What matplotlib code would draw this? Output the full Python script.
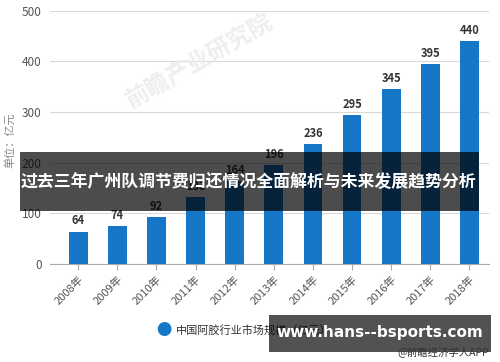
import matplotlib.pyplot as plt
from matplotlib.patches import Rectangle

plt.rcParams['font.family'] = ['Noto Sans CJK SC', 'DejaVu Sans']

years = ["2008年", "2009年", "2010年", "2011年", "2012年", "2013年",
         "2014年", "2015年", "2016年", "2017年", "2018年"]
market_size = [64, 74, 92, 133, 164, 196, 236, 295, 345, 395, 440]
y_ticks = [0, 100, 200, 300, 400, 500]

bar_color = "#1677c8"
grid_color = "#d9d9d9"
text_gray = "#555555"

fig = plt.figure(figsize=(5, 3.62), dpi=100)
ax = fig.add_axes([0.10, 0.271, 0.878, 0.699])

x = list(range(len(years)))
ax.bar(x, market_size, width=0.48, color=bar_color, zorder=3)
for xi, v in zip(x, market_size):
    ax.text(xi, v + 8, str(v), ha="center", va="bottom", fontsize=8,
            fontweight="bold", color="#333333", zorder=4)

ax.set_xlim(-0.72, 10.5)
ax.set_ylim(0, 500)
ax.set_yticks(y_ticks)
ax.set_yticklabels([str(t) for t in y_ticks], fontsize=8.5, color=text_gray)
ax.set_xticks(x)
ax.set_xticklabels(years, rotation=45, ha="right", rotation_mode="anchor",
                   fontsize=8, color=text_gray)
ax.tick_params(axis="y", length=0, pad=6)
ax.tick_params(axis="x", length=4, color="#aaaaaa")
ax.grid(axis="y", color=grid_color, linewidth=0.8, zorder=0)
for s in ["top", "right", "left"]:
    ax.spines[s].set_visible(False)
ax.spines["bottom"].set_color("#aaaaaa")
ax.set_ylabel("单位：亿元", fontsize=8, color="#888888", labelpad=2)
ax.yaxis.set_label_coords(-0.08, 0.49)

# faint watermark
fig.text(0.40, 0.83, "前瞻产业研究院", fontsize=17, color="#eeeeee",
         rotation=30, ha="center", va="center", fontweight="bold", zorder=0)

# legend
fig.text(0.327, 0.088, "●", fontsize=11, color=bar_color, ha="center", va="center")
fig.text(0.352, 0.088, "中国阿胶行业市场规模（亿元）", fontsize=8,
         color="#333333", ha="left", va="center")

# title banner
fig.patches.append(Rectangle((0.04, 1 - 211 / 362), 0.918, 59 / 362,
                             transform=fig.transFigure, facecolor="black",
                             alpha=0.7, zorder=10))
fig.text(0.497, 1 - 182 / 362, "过去三年广州队调节费归还情况全面解析与未来发展趋势分析",
         fontsize=12.2, fontweight="bold", color="white", ha="center",
         va="center", zorder=11)

# site box
fig.patches.append(Rectangle((269 / 500, 1 - 352 / 362), 222 / 500, 37 / 362,
                             transform=fig.transFigure, facecolor="black",
                             alpha=0.68, zorder=10))
fig.text(380 / 500, 1 - 332 / 362, "www.hans--bsports.com", fontsize=11,
         fontweight="bold", color="white", ha="center", va="center",
         family="DejaVu Sans", zorder=11)
fig.text(489 / 500, 1 - 352 / 362, "@前瞻经济学人APP", fontsize=7.5,
         color="#333333", ha="right", va="center", zorder=12)

fig.savefig("out.png", dpi=100)
